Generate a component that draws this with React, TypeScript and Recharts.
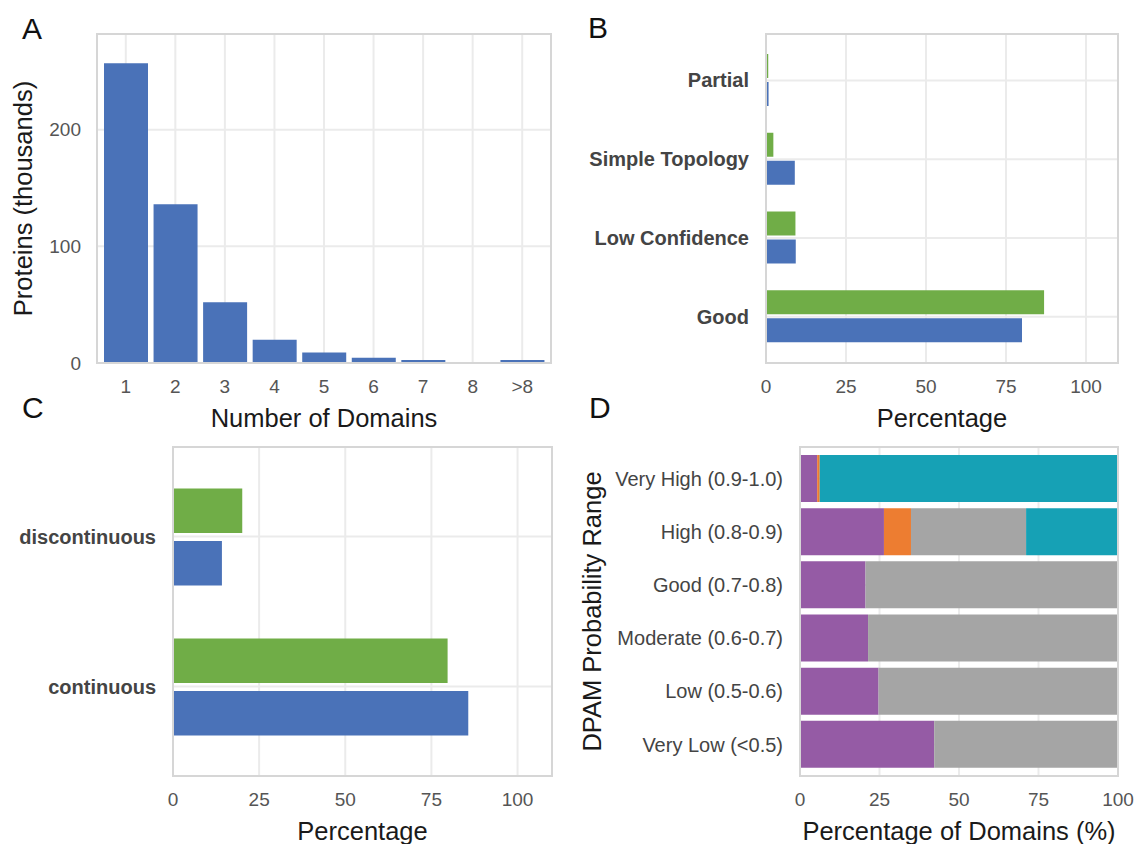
import React from 'react';
import { BarChart, Bar, XAxis, YAxis, CartesianGrid } from 'recharts';

// A: proteins by number of domains (thousands)
const domainLabels = ['1', '2', '3', '4', '5', '6', '7', '8', '>8'];
const proteinCounts = [257, 136, 52, 20, 9, 4.5, 2.5, 0.5, 2.6];

// B: domain quality (%)
const qualityCategories = ['Partial', 'Simple Topology', 'Low Confidence', 'Good'];
const qualityGreen = [0.7, 2.3, 9.2, 86.9];
const qualityBlue = [0.8, 9.0, 9.3, 80.0];

// C: continuity (%)
const continuityCategories = ['discontinuous', 'continuous'];
const continuityGreen = [20.1, 79.7];
const continuityBlue = [14.2, 85.7];

// D: DPAM probability ranges, stacked %
const probRanges = ['Very High (0.9-1.0)', 'High (0.8-0.9)', 'Good (0.7-0.8)', 'Moderate (0.6-0.7)', 'Low (0.5-0.6)', 'Very Low (<0.5)'];
const probPurple = [5.4, 26.4, 20.6, 21.4, 24.7, 42.2];
const probOrange = [0.8, 8.5, 0, 0, 0, 0];
const probGray = [0, 36.2, 79.4, 78.6, 75.3, 57.8];
const probTeal = [93.8, 28.9, 0, 0, 0, 0];

const pctTicks = [0, 25, 50, 75, 100];
const countTicks = [0, 100, 200];

const panelAData = domainLabels.map((label, i) => ({ label, count: proteinCounts[i] }));
const panelBData = qualityCategories.map((name, i) => ({ name, green: qualityGreen[i], blue: qualityBlue[i] }));
const panelCData = continuityCategories.map((name, i) => ({ name, green: continuityGreen[i], blue: continuityBlue[i] }));
const panelDData = probRanges.map((name, i) => ({
    name, purple: probPurple[i], orange: probOrange[i], gray: probGray[i], teal: probTeal[i]
}));

const FONT = '"Liberation Sans", Arial, Helvetica, sans-serif';
const BLUE = '#4a72b8';
const GREEN = '#70ad47';
const GRID = '#ebebeb';

const tickNum = { fill: '#555', fontSize: 19, fontFamily: FONT };
const tickBold = { fill: '#444', fontSize: 20, fontWeight: 'bold', fontFamily: FONT };
const tickPlain = { fill: '#444', fontSize: 20, fontFamily: FONT };
const titleProps = { fill: '#1a1a1a', fontSize: 25.5, fontFamily: FONT };

type Box = {
    left: number; top: number; width: number; height: number;
    margin: { top: number; right: number; bottom: number; left: number };
    yw: number; xh: number;
};

const boxA: Box = { left: 0, top: 0, width: 570, height: 440, margin: { top: 34, right: 19, bottom: 7, left: 0 }, yw: 97, xh: 70 };
const boxB: Box = { left: 570, top: 0, width: 564, height: 440, margin: { top: 34, right: 16, bottom: 7, left: 0 }, yw: 196, xh: 70 };
const boxC: Box = { left: 0, top: 420, width: 570, height: 424, margin: { top: 27, right: 18, bottom: 2, left: 0 }, yw: 173, xh: 66 };
const boxD: Box = { left: 570, top: 420, width: 564, height: 424, margin: { top: 27, right: 16, bottom: 2, left: 0 }, yw: 230, xh: 66 };

// light border round the plot area
const Frame = ({ box }: { box: Box }) => {
    const x0 = box.left + box.margin.left + box.yw;
    const y0 = box.top + box.margin.top;
    const x1 = box.left + box.width - box.margin.right;
    const y1 = box.top + box.height - box.margin.bottom - box.xh;
    return (
        <div style={{
            position: 'absolute', left: x0 - 1, top: y0 - 1, width: x1 - x0 + 2, height: y1 - y0 + 2,
            border: '2px solid #d6d6d6', boxSizing: 'border-box', pointerEvents: 'none'
        }} />
    );
};

const Letter = ({ text, x, y }: { text: string, x: number, y: number }) => (
    <div style={{ position: 'absolute', left: x, top: y, fontSize: 30, lineHeight: '30px', fontFamily: FONT, color: '#111' }}>{text}</div>
);

const at = (box: Box): React.CSSProperties => ({ position: 'absolute', left: box.left, top: box.top });

const App: React.FC = () => {
    return (
        <div style={{ position: 'absolute', left: 0, top: 0, width: 1134, height: 844, background: '#fff', fontFamily: FONT }}>
            <div style={at(boxA)}>
                <BarChart width={boxA.width} height={boxA.height} data={panelAData} margin={boxA.margin} barSize={44}>
                    <CartesianGrid stroke={GRID} strokeWidth={2} />
                    <XAxis dataKey='label' interval={0} height={boxA.xh} padding={{ left: 4, right: 4 }}
                        axisLine={false} tickLine={false} tickSize={0} tickMargin={17} tick={tickNum}
                        label={{ value: 'Number of Domains', position: 'insideBottom', offset: 6, ...titleProps }} />
                    <YAxis domain={[0, 282]} ticks={countTicks} width={boxA.yw}
                        axisLine={false} tickLine={false} tickSize={0} tickMargin={16} tick={tickNum}
                        label={{ value: 'Proteins (thousands)', angle: -90, position: 'insideLeft', offset: 23, ...titleProps, style: { textAnchor: 'middle' } }} />
                    <Bar dataKey='count' fill={BLUE} isAnimationActive={false} />
                </BarChart>
            </div>
            <div style={at(boxB)}>
                <BarChart layout='vertical' width={boxB.width} height={boxB.height} data={panelBData} margin={boxB.margin} barSize={24} barGap={4}>
                    <CartesianGrid stroke={GRID} strokeWidth={2} />
                    <XAxis type='number' domain={[0, 110]} ticks={pctTicks} height={boxB.xh}
                        axisLine={false} tickLine={false} tickSize={0} tickMargin={17} tick={tickNum}
                        label={{ value: 'Percentage', position: 'insideBottom', offset: 6, ...titleProps }} />
                    <YAxis type='category' dataKey='name' width={boxB.yw} padding={{ top: 7, bottom: 7 }}
                        axisLine={false} tickLine={false} tickSize={0} tickMargin={17} tick={tickBold} />
                    <Bar dataKey='green' fill={GREEN} isAnimationActive={false} />
                    <Bar dataKey='blue' fill={BLUE} isAnimationActive={false} />
                </BarChart>
            </div>
            <div style={at(boxC)}>
                <BarChart layout='vertical' width={boxC.width} height={boxC.height} data={panelCData} margin={boxC.margin} barSize={44.5} barGap={8}>
                    <CartesianGrid stroke={GRID} strokeWidth={2} />
                    <XAxis type='number' domain={[0, 110]} ticks={pctTicks} height={boxC.xh}
                        axisLine={false} tickLine={false} tickSize={0} tickMargin={17} tick={tickNum}
                        label={{ value: 'Percentage', position: 'insideBottom', offset: 2.5, ...titleProps }} />
                    <YAxis type='category' dataKey='name' width={boxC.yw} padding={{ top: 14.5, bottom: 14.5 }}
                        axisLine={false} tickLine={false} tickSize={0} tickMargin={17} tick={tickBold} />
                    <Bar dataKey='green' fill={GREEN} isAnimationActive={false} />
                    <Bar dataKey='blue' fill={BLUE} isAnimationActive={false} />
                </BarChart>
            </div>
            <div style={at(boxD)}>
                <BarChart layout='vertical' width={boxD.width} height={boxD.height} data={panelDData} margin={boxD.margin} barSize={47}>
                    <CartesianGrid stroke={GRID} strokeWidth={2} />
                    <XAxis type='number' domain={[0, 100]} ticks={pctTicks} height={boxD.xh}
                        axisLine={false} tickLine={false} tickSize={0} tickMargin={17} tick={tickNum}
                        label={{ value: 'Percentage of Domains (%)', position: 'insideBottom', offset: 2.5, ...titleProps }} />
                    <YAxis type='category' dataKey='name' width={boxD.yw} padding={{ top: 5, bottom: 5 }}
                        axisLine={false} tickLine={false} tickSize={0} tickMargin={17} tick={tickPlain}
                        label={{ value: 'DPAM Probability Range', angle: -90, position: 'insideLeft', offset: 22, ...titleProps, style: { textAnchor: 'middle' } }} />
                    <Bar dataKey='purple' stackId='p' fill='#955ba5' isAnimationActive={false} />
                    <Bar dataKey='orange' stackId='p' fill='#ed7d31' isAnimationActive={false} />
                    <Bar dataKey='gray' stackId='p' fill='#a5a5a5' isAnimationActive={false} />
                    <Bar dataKey='teal' stackId='p' fill='#16a1b5' isAnimationActive={false} />
                </BarChart>
            </div>
            <Frame box={boxA} />
            <Frame box={boxB} />
            <Frame box={boxC} />
            <Frame box={boxD} />
            <Letter text='A' x={22} y={14} />
            <Letter text='B' x={588} y={13} />
            <Letter text='C' x={22} y={393} />
            <Letter text='D' x={589} y={393} />
        </div>
    );
};

export default App;
